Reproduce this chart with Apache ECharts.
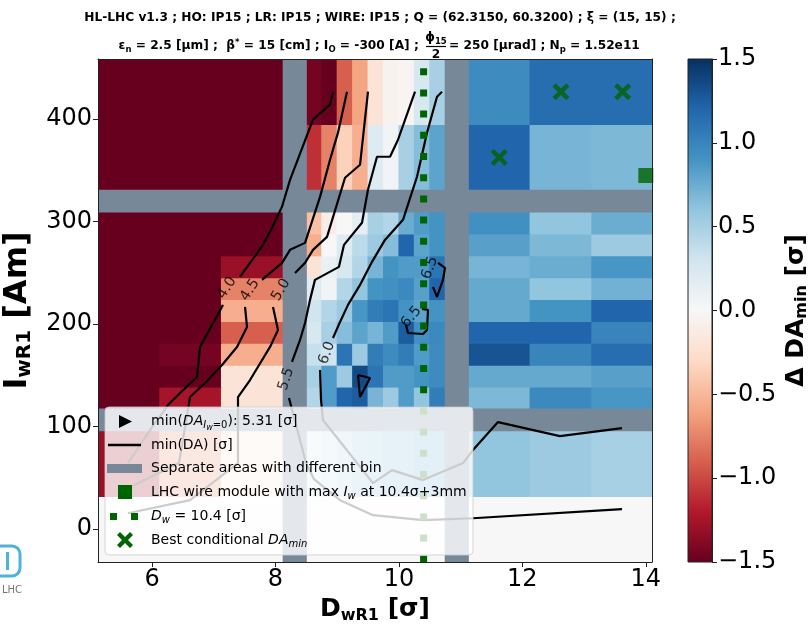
<!DOCTYPE html>
<html>
<head>
<meta charset="utf-8">
<script src="https://cdn.jsdelivr.net/npm/echarts@6.0.0/dist/echarts.min.js"></script>
<style>
  html, body { margin: 0; padding: 0; background: #fff; }
  #chart { width: 811px; height: 626px; }
</style>
</head>
<body>
<div id="chart"></div>
<script>
// ---------------- data ----------------
var xTicks = [6, 8, 10, 12, 14];
var yTicks = [0, 100, 200, 300, 400];
var cbarTicks = [-1.5, -1.0, -0.5, 0, 0.5, 1.0, 1.5];

// bin edges (D_w in sigma, I_w in Am)
var colLo = [5.125, 6.125, 7.125, 8.5, 8.75, 9.0, 9.25, 9.5, 9.75, 10.0, 10.25, 10.5, 11.125, 12.125, 13.125];
var colHi = [6.125, 7.125, 8.125, 8.75, 9.0, 9.25, 9.5, 9.75, 10.0, 10.25, 10.5, 10.75, 12.125, 13.125, 14.1];
var rowLo = [-32, 32, 117.33, 138.67, 160, 181.33, 202.67, 224, 245.33, 266.67, 288, 330.67, 394.67];
var rowHi = [32, 96, 138.67, 160, 181.33, 202.67, 224, 245.33, 266.67, 288, 309.33, 394.67, 458.67];

// separators between areas with different bins
var bandX = [[8.125, 8.5], [10.75, 11.125]];
var bandY = [[96, 117.33], [309.33, 330.67]];

// delta DA_min, rows bottom -> top, columns left -> right
var dDA = [
  [0, 0, 0, 0, 0, 0, 0, 0, 0, 0, 0, 0, 0, 0, 0],
  [-1.3, -0.7, -0.2, 0.25, 0.35, 0.45, 0.55, 0.6, 0.65, 0.65, 0.7, 0.7, 0.6, 0.55, 0.5],
  [-1.6, -1.25, -0.2, 0.45, 0.85, 1.2, 1.25, 0.7, 0.55, 0.85, 0.6, 1.05, 0.68, 0.97, 0.88],
  [-1.6, -1.6, -0.2, 0.5, 0.85, 0.55, 1.35, 1.1, 0.85, 0.85, 0.9, 0.95, 0.77, 0.77, 0.82],
  [-1.6, -1.45, -0.55, 0.35, 0.3, 1.1, 0.55, 1.05, 0.95, 1.05, 0.85, 0.95, 1.3, 1.0, 1.15],
  [-1.6, -1.6, -0.9, 0.25, 0.5, 0.65, 0.8, 0.7, 0.85, 1.25, 0.92, 0.97, 1.2, 1.2, 1.0],
  [-1.6, -1.6, -0.55, 0.3, 0.45, 0.55, 0.88, 1.05, 1.1, 0.9, 0.8, 0.9, 0.77, 0.9, 1.2],
  [-1.6, -1.6, -0.75, 0.2, 0.05, 0.45, 0.6, 0.9, 0.92, 0.97, 0.82, 1.2, 0.77, 0.6, 0.72],
  [-1.6, -1.6, -1.3, -0.2, 0.1, 0.25, 0.45, 0.7, 0.9, 0.85, 0.85, 1.1, 0.7, 0.75, 0.88],
  [-1.6, -1.6, -1.6, -0.55, 0.0, 0.2, 0.4, 0.55, 0.65, 1.2, 0.8, 0.9, 0.82, 0.68, 0.55],
  [-1.6, -1.6, -1.6, -0.45, -0.1, 0.0, 0.15, 0.5, 0.45, 0.75, 0.85, 0.9, 0.92, 0.6, 0.75],
  [-1.6, -1.6, -1.6, -1.1, -0.75, -0.35, -0.55, 0.2, 0.05, 0.5, 0.65, 0.8, 1.2, 0.7, 0.68],
  [-1.6, -1.6, -1.6, -1.45, -1.6, -0.9, -0.6, -0.2, -0.05, -0.03, 0.25, 0.5, 0.95, 1.15, 1.15]
];

// min(DA) contours (segments of [D_w, I_w], broken where the level label sits)
var cont40 = [
  [[8.932, 426.8], [8.884, 414.1], [8.608, 399.5], [8.236, 340.8], [8.106, 314.5], [7.944, 294.0], [7.798, 277.4], [7.426, 246.1]],
  [[7.150, 218.8], [6.778, 177.8], [6.729, 148.5], [6.454, 132.8], [6.259, 121.1], [5.968, 96.7], [5.611, 64.5]]
];
var cont45 = [
  [[9.159, 426.8], [9.013, 386.8], [8.884, 360.4], [8.722, 324.2], [8.479, 279.3], [8.236, 272.5], [8.106, 259.8], [7.782, 243.2]],
  [[7.507, 216.8], [7.539, 197.3], [7.377, 177.8], [7.134, 160.2], [6.859, 142.6], [6.616, 128.9], [6.437, 64.5], [5.611, 40.0]]
];
var cont50 = [
  [[9.499, 426.8], [9.370, 355.5], [9.127, 342.8], [8.835, 285.2], [8.608, 272.5], [8.479, 259.8], [8.317, 250.0]],
  [[7.960, 216.8], [8.041, 194.4], [7.912, 177.8], [7.588, 145.5], [7.393, 128.9], [7.393, 64.5], [6.616, 28.3], [5.611, 15.6]]
];
var cont55 = [
  [[10.261, 426.8], [9.985, 379.9], [9.856, 363.3], [9.645, 363.3], [9.499, 331.1], [9.402, 298.9], [9.110, 277.4],
   [9.029, 255.9], [8.640, 243.2], [8.560, 223.7], [8.479, 201.2], [8.398, 184.6], [8.268, 163.1]],
  [[8.219, 127.9], [8.495, 64.5], [8.624, 48.8], [9.046, 28.3], [9.580, 13.7], [10.390, 8.8], [11.200, 10.7], [13.614, 19.5]]
];
var cont60 = [
  [[10.698, 426.8], [10.617, 421.9], [10.455, 386.8], [10.293, 343.8], [10.066, 301.8], [9.774, 282.2], [9.564, 260.8],
   [9.370, 238.3], [9.175, 218.8], [9.046, 202.2], [8.932, 186.5]],
  [[8.722, 155.3], [8.738, 126.0], [8.770, 106.5], [9.580, 44.9], [9.888, 57.6], [10.390, 47.9], [11.038, 64.5],
   [11.2, 77.2], [11.605, 104.5], [12.609, 90.8], [13.614, 98.6]]
];
var cont65 = [
  [[9.338, 150.4], [9.532, 147.5], [9.37, 128.9], [9.338, 150.4]],
  [[10.115, 199.2], [10.147, 191.4], [10.390, 190.4], [10.455, 194.4], [10.471, 213.9], [10.374, 214.9]],
  [[10.633, 259.8], [10.746, 254.9], [10.714, 243.2], [10.617, 226.6], [10.552, 236.4]]
];
var contLabelText = ['4.0', '4.5', '5.0', '5.5', '6.0', '6.5', '6.5'];
var contLabelPos = [[7.215, 235.4], [7.588, 233.4], [8.09, 233.4], [8.175, 146.5], [8.835, 171.9], [10.2, 207], [10.504, 254.9]];
var contLabelAngle = [58, 58, 60, 72, 70, 50, 70];

var dwValue = 10.4;
var modulePoint = [[14.0, 345]];
var bestPoints = [[11.625, 362.67], [12.625, 426.67], [13.625, 426.67]];

// ---------------- colours ----------------
var vMin = -1.5, vMax = 1.5;
var rdbu = ['#67001f', '#b2182b', '#d6604d', '#f4a582', '#fddbc7', '#f7f7f7',
            '#d1e5f0', '#92c5de', '#4393c3', '#2166ac', '#053061'];
var rdbuRgb = rdbu.map(function (h) {
  return [parseInt(h.substr(1, 2), 16), parseInt(h.substr(3, 2), 16), parseInt(h.substr(5, 2), 16)];
});
function cmap(v) {
  var t = (v - vMin) / (vMax - vMin);
  t = Math.max(0, Math.min(1, t));
  var f = t * (rdbu.length - 1);
  var i = Math.min(Math.floor(f), rdbu.length - 2);
  var u = f - i, a = rdbuRgb[i], b = rdbuRgb[i + 1];
  return 'rgb(' + Math.round(a[0] + (b[0] - a[0]) * u) + ',' +
    Math.round(a[1] + (b[1] - a[1]) * u) + ',' + Math.round(a[2] + (b[2] - a[2]) * u) + ')';
}
var bandColor = '#778899';
var green = '#006400';
var FONT = 'DejaVu Sans';

// ---------------- build series ----------------
var heatData = [];
for (var r = 0; r < dDA.length; r++) {
  for (var c = 0; c < dDA[r].length; c++) {
    heatData.push([colLo[c], colHi[c], rowLo[r], rowHi[r], dDA[r][c]]);
  }
}
var bandData = [];
bandX.forEach(function (b) { bandData.push([b[0], b[1], rowLo[0], rowHi[rowHi.length - 1]]); });
bandY.forEach(function (b) { bandData.push([colLo[0], colHi[colHi.length - 1], b[0], b[1]]); });

function rectItem(params, api, fill) {
  var p0 = api.coord([api.value(0), api.value(3)]);
  var p1 = api.coord([api.value(1), api.value(2)]);
  var cs = params.coordSys;
  // pad by half a pixel to avoid seams, but stay inside the plot
  var x0 = Math.max(cs.x, p0[0] - 0.5), y0 = Math.max(cs.y, p0[1] - 0.5);
  var x1 = Math.min(cs.x + cs.width, p1[0] + 0.5), y1 = Math.min(cs.y + cs.height, p1[1] + 0.5);
  return {
    type: 'rect',
    shape: { x: x0, y: y0, width: x1 - x0, height: y1 - y0 },
    style: { fill: fill }
  };
}

var series = [
  {
    type: 'custom', name: 'heat', silent: true, z: 1,
    renderItem: function (params, api) { return rectItem(params, api, cmap(api.value(4))); },
    data: heatData
  },
  {
    type: 'custom', name: 'bands', silent: true, z: 2,
    renderItem: function (params, api) { return rectItem(params, api, bandColor); },
    data: bandData
  }
];

[cont40, cont45, cont50, cont55, cont60, cont65].forEach(function (segs) {
  segs.forEach(function (s) {
    series.push({
      type: 'line', data: s, symbol: 'none', silent: true, z: 3,
      lineStyle: { color: '#000', width: 2.2 }
    });
  });
});

series.push({
  type: 'scatter', silent: true, z: 4, symbolSize: 1,
  itemStyle: { color: 'transparent' },
  label: { show: true, position: 'inside', formatter: '{b}', fontSize: 14.5, color: '#000', fontFamily: FONT },
  data: contLabelPos.map(function (p, i) {
    return { name: contLabelText[i], value: p, label: { rotate: contLabelAngle[i] } };
  })
});

series.push({
  type: 'line', silent: true, z: 5, symbol: 'none',
  data: [[dwValue, rowHi[rowHi.length - 1]], [dwValue, rowLo[0]]],
  lineStyle: { color: green, width: 7, type: [7, 14.2], dashOffset: 12, cap: 'butt' }
});
series.push({
  type: 'scatter', silent: true, z: 6, symbol: 'rect', symbolSize: 15,
  itemStyle: { color: green }, data: modulePoint
});
series.push({
  type: 'scatter', silent: true, z: 6, symbolSize: 17,
  symbol: 'path://M3,0L8,5L13,0L16,3L11,8L16,13L13,16L8,11L3,16L0,13L5,8L0,3Z',
  itemStyle: { color: green }, data: bestPoints
});

// colour bar
series.push({
  type: 'custom', silent: true, xAxisIndex: 2, yAxisIndex: 2,
  data: [[0, 1, vMin, vMax]],
  renderItem: function (params, api) {
    var p0 = api.coord([api.value(0), api.value(3)]);
    var p1 = api.coord([api.value(1), api.value(2)]);
    var stops = rdbu.map(function (col, i) { return { offset: i / (rdbu.length - 1), color: col }; });
    return {
      type: 'rect',
      shape: { x: p0[0], y: p0[1], width: p1[0] - p0[0], height: p1[1] - p0[1] },
      style: { fill: new echarts.graphic.LinearGradient(0, 1, 0, 0, stops), stroke: '#222', lineWidth: 1 }
    };
  }
});

// ---------------- text pieces ----------------
var subRich = {
  b: { fontSize: 25, fontWeight: 'bold', fontFamily: FONT, color: '#000' },
  s: { fontSize: 16, fontWeight: 'bold', fontFamily: FONT, color: '#000', padding: [12, 0, 0, 0] }
};
var titleRich = {
  m: { fontSize: 12.2, fontWeight: 'bold', fontFamily: FONT, color: '#000' },
  s: { fontSize: 8.5, fontWeight: 'bold', fontFamily: FONT, color: '#000', padding: [7, 0, 0, 0] },
  p: { fontSize: 8.5, fontWeight: 'bold', fontFamily: FONT, color: '#000', padding: [0, 0, 7, 0] }
};
var legRich = {
  t: { fontSize: 14, fontFamily: FONT, color: '#000' },
  i: { fontSize: 14, fontFamily: FONT, fontStyle: 'italic', color: '#000' },
  si: { fontSize: 10, fontFamily: FONT, fontStyle: 'italic', color: '#000', padding: [8, 0, 0, 0] },
  ss: { fontSize: 8, fontFamily: FONT, fontStyle: 'italic', color: '#000', padding: [12, 0, 0, 0] },
  s: { fontSize: 10, fontFamily: FONT, color: '#000', padding: [8, 0, 0, 0] }
};
var legendTexts = [
  '{t|min(}{i|DA}{si|I}{ss|w}{s|=0}{t|): 5.31 [σ]}',
  '{t|min(DA) [σ]}',
  '{t|Separate areas with different bin}',
  '{t|LHC wire module with max }{i|I}{si|w}{t| at 10.4σ+3mm}',
  '{i|D}{si|w}{t| = 10.4 [σ]}',
  '{t|Best conditional }{i|DA}{si|min}'
];
var legY = [421.5, 445, 468.5, 492, 516.5, 540];

var graphics = [
  { type: 'rect', z: 100, shape: { x: 105, y: 407, width: 368, height: 148, r: 4 },
    style: { fill: 'rgba(255,255,255,0.8)', stroke: 'rgba(204,204,204,0.8)', lineWidth: 1 } },
  { type: 'polygon', z: 101, shape: { points: [[119, 415], [132, 421.5], [119, 428]] }, style: { fill: '#000' } },
  { type: 'line', z: 101, shape: { x1: 108, y1: 445, x2: 141, y2: 445 }, style: { stroke: '#000', lineWidth: 2.5 } },
  { type: 'rect', z: 101, shape: { x: 107, y: 464, width: 35, height: 9 }, style: { fill: bandColor } },
  { type: 'rect', z: 101, shape: { x: 118, y: 485, width: 14, height: 14 }, style: { fill: green } },
  { type: 'rect', z: 101, shape: { x: 110, y: 513, width: 7, height: 7 }, style: { fill: green } },
  { type: 'rect', z: 101, shape: { x: 131, y: 513, width: 7, height: 7 }, style: { fill: green } },
  { type: 'polygon', z: 101, shape: { points: [[117, 535], [120, 532], [125, 537], [130, 532], [133, 535], [128, 540],
      [133, 545], [130, 548], [125, 543], [120, 548], [117, 545], [122, 540]] }, style: { fill: green } },
  // fragment of the logo peeking in at the lower left corner
  { type: 'rect', z: 1, shape: { x: -14, y: 546, width: 34, height: 30, r: 8 },
    style: { fill: 'none', stroke: '#4fb3d9', lineWidth: 3 } },
  { type: 'rect', z: 1, shape: { x: 6, y: 552, width: 3, height: 18 }, style: { fill: '#4fb3d9' } },
  { type: 'text', z: 1, style: { x: 2, y: 590, text: 'LHC', fontSize: 10, fontFamily: FONT, fill: '#777', verticalAlign: 'middle' } }
];
legendTexts.forEach(function (t, i) {
  graphics.push({ type: 'text', z: 101, style: { x: 151, y: legY[i], text: t, rich: legRich, verticalAlign: 'middle', align: 'left' } });
});
// title
graphics.push({ type: 'text', z: 101, style: { x: 380, y: 18, align: 'center', verticalAlign: 'middle',
  text: '{m|HL-LHC v1.3 ; HO: IP15 ; LR: IP15 ; WIRE: IP15 ; Q = (62.3150, 60.3200) ; ξ = (15, 15) ;}', rich: titleRich } });
graphics.push({ type: 'text', z: 101, style: { x: 423, y: 46, align: 'right', verticalAlign: 'middle',
  text: '{m|ε}{s|n}{m| = 2.5 [μm] ;  β}{p|*}{m| = 15 [cm] ; I}{s|O}{m| = -300 [A] ; }', rich: titleRich } });
graphics.push({ type: 'text', z: 101, style: { x: 436, y: 38, align: 'center', verticalAlign: 'middle',
  text: '{m|ϕ}{s|15}', rich: titleRich } });
graphics.push({ type: 'line', z: 101, shape: { x1: 426, y1: 46.5, x2: 446, y2: 46.5 }, style: { stroke: '#000', lineWidth: 1.2 } });
graphics.push({ type: 'text', z: 101, style: { x: 436, y: 55, align: 'center', verticalAlign: 'middle',
  text: '{m|2}', rich: titleRich } });
graphics.push({ type: 'text', z: 101, style: { x: 449, y: 46, align: 'left', verticalAlign: 'middle',
  text: '{m|= 250 [μrad] ; N}{s|p}{m| = 1.52e11}', rich: titleRich } });

// ---------------- option ----------------
function frameAxis(extra) {
  var a = {
    type: 'value', z: 10,
    axisLine: { show: true, onZero: false, lineStyle: { color: '#222', width: 1 } },
    axisTick: { show: false }, axisLabel: { show: false }, splitLine: { show: false }
  };
  for (var k in extra) a[k] = extra[k];
  return a;
}
var tickLabel = { fontSize: 24, color: '#000', fontFamily: FONT };

var option = {
  animation: false,
  backgroundColor: '#fff',
  grid: [
    { left: 98, top: 59, width: 554, height: 503, containLabel: false, outerBoundsMode: 'none' },
    { left: 688, top: 59, width: 24, height: 503, containLabel: false, outerBoundsMode: 'none' }
  ],
  xAxis: [
    frameAxis({
      gridIndex: 0, min: colLo[0], max: colHi[colHi.length - 1], position: 'bottom',
      axisTick: { show: true, customValues: xTicks, length: 5, lineStyle: { color: '#222' } },
      axisLabel: Object.assign({ customValues: xTicks, margin: 6 }, tickLabel),
      name: '{b|D}{s|wR1}{b| [σ]}', nameLocation: 'middle', nameGap: 32,
      nameTextStyle: { rich: subRich }
    }),
    frameAxis({ gridIndex: 0, min: colLo[0], max: colHi[colHi.length - 1], position: 'top' }),
    { gridIndex: 1, type: 'value', min: 0, max: 1, show: false }
  ],
  yAxis: [
    frameAxis({
      gridIndex: 0, min: rowLo[0], max: rowHi[rowHi.length - 1], position: 'left',
      axisTick: { show: true, customValues: yTicks, length: 5, lineStyle: { color: '#222' } },
      axisLabel: Object.assign({ customValues: yTicks, margin: 6 }, tickLabel),
      name: '{b|I}{s|wR1}{b| [Am]}', nameLocation: 'middle', nameGap: 47, nameRotate: 90,
      nameTextStyle: { rich: { b: { fontSize: 32, fontWeight: 'bold', fontFamily: FONT, color: '#000' },
                               s: { fontSize: 20, fontWeight: 'bold', fontFamily: FONT, color: '#000', padding: [16, 0, 0, 0] } } }
    }),
    frameAxis({ gridIndex: 0, min: rowLo[0], max: rowHi[rowHi.length - 1], position: 'right' }),
    frameAxis({
      gridIndex: 1, min: vMin, max: vMax, position: 'right',
      axisTick: { show: true, customValues: cbarTicks, length: 5, lineStyle: { color: '#222' } },
      axisLabel: Object.assign({
        customValues: cbarTicks, margin: 6,
        formatter: function (v) { return (v < 0 ? '\u2212' : '') + Math.abs(v).toFixed(1); }
      }, tickLabel),
      name: '{b|Δ DA}{s|min}{b| [σ]}', nameLocation: 'middle', nameGap: 70, nameRotate: 90,
      nameTextStyle: { rich: subRich }
    })
  ],
  series: series,
  graphic: graphics
};

var chart = echarts.init(document.getElementById('chart'), null, { renderer: 'canvas' });
chart.setOption(option);
</script>
</body>
</html>
